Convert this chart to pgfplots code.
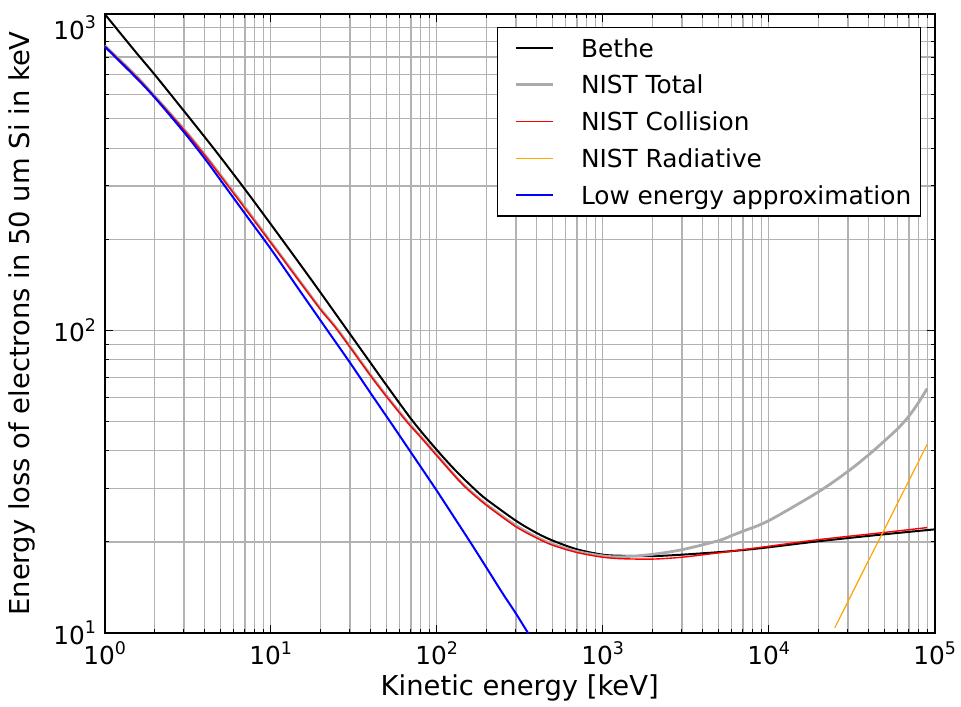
\documentclass[border=0pt]{standalone}
\usepackage{pgfplots}
\pgfplotsset{compat=1.18}
\usepackage{fontspec}
\setmainfont{DejaVu Sans}
\usetikzlibrary{calc}
\definecolor{nistgray}{RGB}{170,170,170}
\definecolor{nistorange}{RGB}{255,165,0}
\definecolor{nistred}{RGB}{255,0,0}
\definecolor{lowblue}{RGB}{0,0,255}
\newcommand{\fs}{\fontsize{12.4}{14.9}\selectfont}
\newcommand{\fl}{\fontsize{13.7}{16.4}\selectfont}
\newcommand{\tp}[1]{10\raisebox{0.42em}{\fontsize{8.7}{9}\selectfont #1}}
\begin{document}
\fs
\begin{tikzpicture}
\begin{loglogaxis}[
  scale only axis,
  width=415pt, height=309.5pt,
  xmin=1, xmax=1e5, ymin=10, ymax=1110,
  xtick={1,10,100,1000,10000,100000},
  xticklabels={\tp{0},\tp{1},\tp{2},\tp{3},\tp{4},\tp{5}},
  ytick={10,100,1000},
  yticklabels={\tp{1},\tp{2},\tp{3}},
  minor xtick={2,3,4,5,6,7,8,9,20,30,40,50,60,70,80,90,200,300,400,500,600,700,800,900,2000,3000,4000,5000,6000,7000,8000,9000,20000,30000,40000,50000,60000,70000,80000,90000},
  minor ytick={20,30,40,50,60,70,80,90,200,300,400,500,600,700,800,900},
  grid=both,
  major grid style={gray!60, line width=0.6pt},
  minor grid style={gray!60, line width=0.6pt},
  tick align=inside,
  major tick length=4pt, minor tick length=2pt,
  every tick/.style={black, line width=0.5pt},
  axis line style={black, line width=0.8pt},
  tick label style={font=\fs},
  label style={font=\fl},
  xlabel={Kinetic energy [keV]},
  ylabel={Energy loss of electrons in 50 um Si in keV},
  xlabel style={at={(axis description cs:0.5,-0.0889)}, anchor=center},
  ylabel style={at={(axis description cs:-0.0997,0.5)}, anchor=center},
  legend cell align=left,
  legend image code/.code={\path (0pt,0pt); \draw[#1] (3.7pt,0pt) -- (22pt,0pt);},
  legend style={at={(rel axis cs:1,1)}, anchor=north east, xshift=-6.85pt, yshift=-6.5pt,
    draw=black, line width=0.6pt, fill=white, font=\fs,
    inner xsep=4.6pt, inner ysep=5.3pt, row sep=8.4pt, column sep=13.5pt,
    nodes={inner sep=0pt, text height=9.5pt, text depth=0.5pt}},
]
\coordinate (SW) at (rel axis cs:0,0);
\coordinate (NE) at (rel axis cs:1,1);
% Bethe
\addplot[color=black, line width=1pt, smooth, forget plot] coordinates {
(1,1110) (1.5,845) (2,700) (3,531) (4,435.6) (5,372.6) (7,292.4) (10,224.5) (15,165.6) (20,133.1)
(28.7,100.7) (40,78.0) (50,65.7) (72,50.0) (100,40.3) (130,34.4) (170,29.8) (200,27.6)
(300,23.5) (400,21.4) (500,20.2) (700,18.9) (1000,18.15) (1300,18.0) (2000,17.95)
(3000,18.15) (5000,18.5) (7000,18.8) (10000,19.2) (20000,20.1) (50000,21.2) (100000,22.0)};
% NIST total
\addplot[color=nistgray, line width=1.4pt, smooth, forget plot] coordinates {
(1,872) (1.5,705) (2,594) (3,462) (4,381) (5,325) (7,255) (10,196) (15,145.2) (20,117.6)
(25.5,99.9) (40,71.1) (50,60.6) (65.9,50.25) (80,44.6) (100,38.8) (130,32.9) (152,30.15) (200,26.55)
(300,22.65) (400,20.75) (500,19.65) (700,18.6) (1000,17.98) (1300,17.85) (2000,18.2)
(3000,18.85) (5000,20.2) (6000,21.0) (7000,21.7) (10000,23.5) (20000,29.3) (30000,34.2)
(40000,38.8) (50000,43.2) (60000,47.4) (70000,52.1) (80000,57.8) (90000,64.2)};
% NIST collision
\addplot[color=nistred, line width=0.7pt, smooth, forget plot] coordinates {
(1,870) (1.5,702) (2,592) (3,460) (4,379) (5,323) (7,253) (10,195) (15,144.5) (20,117)
(25.5,99.5) (40,70.8) (50,60.3) (65.9,50) (80,44.4) (100,38.6) (130,32.8) (152,30) (200,26.4)
(300,22.45) (400,20.6) (500,19.5) (700,18.45) (1000,17.8) (1300,17.6) (2000,17.55)
(3000,17.8) (5000,18.4) (7000,18.85) (10000,19.35) (20000,20.35) (50000,21.5) (90000,22.3)};
% NIST radiative
\addplot[color=nistorange, line width=0.6pt, forget plot] coordinates {
(25000,10.4) (30000,12.7) (40000,17.4) (50000,22.1) (60000,27.0) (80000,36.9) (90000,42.0)};
% Low energy approximation
\addplot[color=lowblue, line width=1pt, smooth, forget plot] coordinates {
(1,866) (1.5,695) (2,588) (3,452) (4,370) (5,313) (7,243) (10,186) (15,135) (22.1,99.5)
(30,78.3) (40,62) (52.7,49.7) (70,39.5) (99,29.8) (130,23.7) (159,20) (200,16.4)
(250,13.5) (300,11.6) (351,10.1) (400,9.0)};
\addlegendimage{draw=black, line width=1pt}
\addlegendentry{Bethe}
\addlegendimage{draw=nistgray, line width=1.5pt}
\addlegendentry{NIST Total}
\addlegendimage{draw=nistred, line width=0.7pt}
\addlegendentry{NIST Collision}
\addlegendimage{draw=nistorange, line width=0.6pt}
\addlegendentry{NIST Radiative}
\addlegendimage{draw=lowblue, line width=1pt}
\addlegendentry{Low energy approximation}
\end{loglogaxis}
\pgfresetboundingbox
\path ($(SW)+(-52.35pt,-36.5pt)$) rectangle ($(NE)+(13.15pt,7pt)$);
\end{tikzpicture}
\end{document}
